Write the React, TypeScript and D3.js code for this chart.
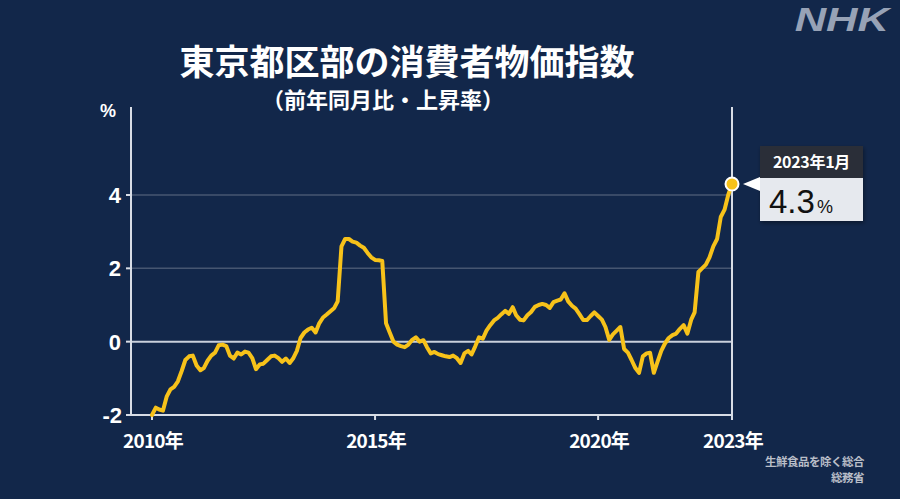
import React from "react";
import * as d3 from "d3";

const startYear = 2010;
const startMonth = 0;
const values: number[] = [
  // 2010
  -2.0, -1.8, -1.85, -1.88, -1.5, -1.3, -1.23, -1.08, -0.8, -0.5, -0.4, -0.38,
  // 2011
  -0.65, -0.78, -0.72, -0.52, -0.38, -0.3, -0.1, -0.08, -0.12, -0.38, -0.46, -0.3,
  // 2012
  -0.35, -0.27, -0.3, -0.45, -0.75, -0.62, -0.6, -0.5, -0.4, -0.38, -0.45, -0.55,
  // 2013
  -0.46, -0.58, -0.46, -0.25, 0.1, 0.25, 0.33, 0.38, 0.25, 0.5, 0.66, 0.74,
  // 2014
  0.83, 0.92, 1.1, 2.6, 2.8, 2.8, 2.73, 2.7, 2.62, 2.56, 2.42, 2.3,
  // 2015
  2.23, 2.22, 2.2, 0.5, 0.25, 0.0, -0.08, -0.12, -0.15, -0.08, 0.05, 0.12,
  // 2016
  0.0, 0.04, -0.15, -0.32, -0.28, -0.34, -0.37, -0.4, -0.42, -0.38, -0.45, -0.58,
  // 2017
  -0.32, -0.25, -0.35, -0.12, 0.12, 0.08, 0.3, 0.45, 0.58, 0.65, 0.75, 0.84,
  // 2018
  0.76, 0.94, 0.72, 0.6, 0.58, 0.72, 0.81, 0.95, 1.0, 1.03, 1.0, 0.92,
  // 2019
  1.08, 1.12, 1.15, 1.32, 1.1, 0.98, 0.9, 0.75, 0.59, 0.59, 0.7, 0.8,
  // 2020
  0.7, 0.6, 0.4, 0.05, 0.2, 0.3, 0.4, -0.2, -0.3, -0.5, -0.72, -0.85,
  // 2021
  -0.4, -0.32, -0.3, -0.85, -0.55, -0.25, -0.05, 0.1, 0.18, 0.22, 0.35, 0.45,
  // 2022
  0.22, 0.6, 0.8, 1.9, 2.0, 2.1, 2.3, 2.6, 2.8, 3.4, 3.6, 4.0,
  // 2023
  4.3,
];

const yTicks = [-2, 0, 2, 4];
const xTickYears = [2010, 2015, 2020, 2023];
const xTickLabels = ["2010年", "2015年", "2020年", "2023年"];
const titleText = "東京都区部の消費者物価指数";
const subtitleText = "（前年同月比・上昇率）";
const calloutDate = "2023年1月";
const calloutValue = "4.3";
const noteLines = ["生鮮食品を除く総合", "総務省"];

const W = 900;
const H = 499;
const BG = "#12274a";
const LINE = "#f7c21a";
const JP = "'Noto Sans CJK JP', 'Noto Sans', sans-serif";
const NUM = "'Liberation Sans', Arial, sans-serif";

export default function App() {
  const data = values.map((v, i) => ({
    date: new Date(startYear, startMonth + i, 1),
    v,
  }));
  const x = d3
    .scaleTime()
    .domain([new Date(2010, 0, 1), new Date(2023, 0, 1)])
    .range([152, 732]);
  const y = d3.scaleLinear().domain([-2, 4]).range([415, 195]);
  const line = d3
    .line<{ date: Date; v: number }>()
    .x((d) => x(d.date))
    .y((d) => y(d.v))
    .curve(d3.curveLinear);

  const axisLeft = 131;
  const axisRight = x(new Date(2023, 0, 1));
  const axisTop = y(6.4);
  const axisBottom = y(-2);
  const last = data[data.length - 1];
  const lx = x(last.date);
  const ly = y(last.v);

  const boxX = lx + 28;
  const boxW = 103;
  const boxTop = ly - 38;
  const headH = 32;
  const bodyH = 43;

  return (
    <svg
      width={W}
      height={H}
      style={{ position: "fixed", left: 0, top: 0, display: "block" }}
      xmlns="http://www.w3.org/2000/svg"
    >
      <defs>
        <filter id="sh" x="-20%" y="-20%" width="140%" height="140%">
          <feDropShadow dx="1" dy="2" stdDeviation="2" floodColor="#000" floodOpacity="0.4" />
        </filter>
      </defs>
      <rect x={0} y={0} width={W} height={H} fill={BG} />

      {/* NHK logo */}
      <g transform="translate(889,31) scale(1.32,1)">
        <text
          x={0}
          y={0}
          textAnchor="end"
          fontFamily={NUM}
          fontWeight={700}
          fontStyle="italic"
          fontSize={33}
          fill="#97a2b6"
        >
          NHK
        </text>
      </g>

      {/* Title */}
      <text
        x={407}
        y={75}
        textAnchor="middle"
        fontFamily={JP}
        fontWeight={700}
        fontSize={35}
        fill="#ffffff"
      >
        {titleText}
      </text>
      <text
        x={383}
        y={108}
        textAnchor="middle"
        fontFamily={JP}
        fontWeight={700}
        fontSize={22}
        fill="#ffffff"
      >
        {subtitleText}
      </text>

      {/* gridlines */}
      {yTicks.map((t) =>
        t === -2 ? null : (
          <line
            key={"g" + t}
            x1={axisLeft}
            x2={axisRight}
            y1={y(t)}
            y2={y(t)}
            stroke={t === 0 ? "#c9d0dc" : "rgba(255,255,255,0.22)"}
            strokeWidth={t === 0 ? 2 : 1.5}
          />
        )
      )}

      {/* axes */}
      <line x1={axisLeft} x2={axisLeft} y1={axisTop} y2={axisBottom} stroke="#d8dde6" strokeWidth={2} />
      <line x1={axisRight} x2={axisRight} y1={axisTop} y2={axisBottom + 5} stroke="#d8dde6" strokeWidth={2} />
      <line x1={axisLeft - 5} x2={axisRight} y1={axisBottom} y2={axisBottom} stroke="#d8dde6" strokeWidth={2} />
      {yTicks.map((t) => (
        <g key={"yt" + t}>
          <line x1={axisLeft - 5} x2={axisLeft} y1={y(t)} y2={y(t)} stroke="#d8dde6" strokeWidth={2} />
          <text
            x={t < 0 ? 122 : 121}
            y={y(t) + 8}
            textAnchor="end"
            fontFamily={NUM}
            fontWeight={700}
            fontSize={22}
            fill="#ffffff"
          >
            {t}
          </text>
        </g>
      ))}
      <text x={108} y={117} textAnchor="middle" fontFamily={NUM} fontWeight={700} fontSize={18} fill="#ffffff">
        %
      </text>

      {xTickYears.map((yr, i) => {
        const xx = x(new Date(yr, 0, 1));
        return (
          <g key={"xt" + yr}>
            <line x1={xx} x2={xx} y1={axisBottom} y2={axisBottom + 5} stroke="#d8dde6" strokeWidth={2} />
            <text
              x={xx + 1}
              y={448}
              textAnchor="middle"
              fontFamily={JP}
              fontWeight={700}
              fontSize={19}
              fill="#ffffff"
              letterSpacing={-0.8}
            >
              {xTickLabels[i]}
            </text>
          </g>
        );
      })}

      {/* data line */}
      <path
        d={line(data) || ""}
        fill="none"
        stroke={LINE}
        strokeWidth={4}
        strokeLinejoin="round"
        strokeLinecap="round"
      />
      <circle cx={lx} cy={ly} r={6.5} fill={LINE} stroke="#ffffff" strokeWidth={2} />

      {/* callout */}
      <g filter="url(#sh)">
        <rect x={boxX} y={boxTop} width={boxW} height={headH} fill="#2a2f37" />
        <rect x={boxX} y={boxTop + headH} width={boxW} height={bodyH} fill="#e6e9ee" />
      </g>
      <polygon
        points={`${lx + 11},${ly} ${boxX},${ly - 7} ${boxX},${ly + 7}`}
        fill="#ffffff"
      />
      <text
        x={boxX + boxW / 2}
        y={boxTop + 22}
        textAnchor="middle"
        fontFamily={JP}
        fontWeight={700}
        fontSize={16}
        fill="#ffffff"
        letterSpacing={-0.3}
      >
        {calloutDate}
      </text>
      <text x={boxX + 9} y={boxTop + headH + 35} fontFamily={NUM} fontSize={33} fill="#111111">
        {calloutValue}
        <tspan fontSize={18} dx={2}>%</tspan>
      </text>

      {/* note */}
      {noteLines.map((s, i) => (
        <text
          key={s}
          x={864}
          y={466 + i * 16}
          textAnchor="end"
          fontFamily={JP}
          fontWeight={700}
          fontSize={11.5}
          fill="#b9bec8"
          letterSpacing={-0.5}
        >
          {s}
        </text>
      ))}
    </svg>
  );
}
